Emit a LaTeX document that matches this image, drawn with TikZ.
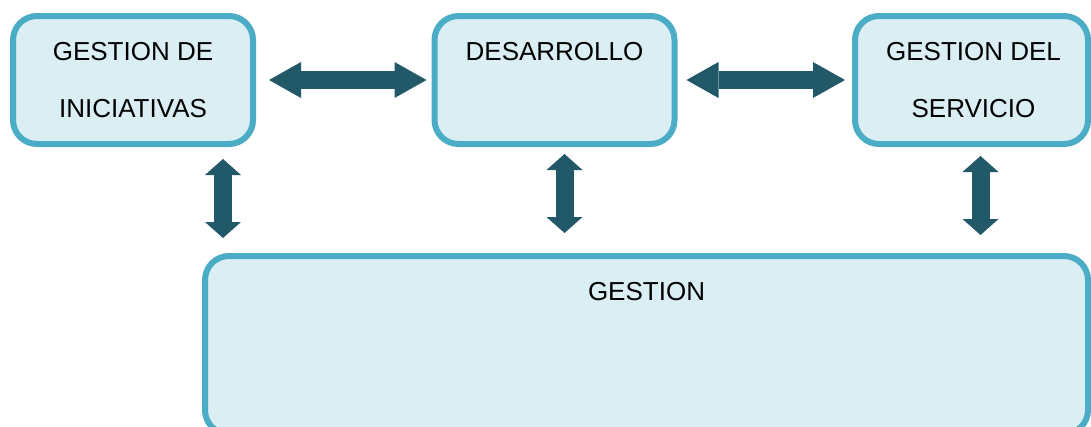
\documentclass[tikz,border=0pt]{standalone}
\usepackage{fontspec}
\setmainfont{Liberation Sans}
\usetikzlibrary{arrows.meta,positioning}

\definecolor{borde}{HTML}{4BACC6}
\definecolor{relleno}{HTML}{DAEEF3}
\definecolor{flecha}{HTML}{215968}

\tikzset{
  caja/.style={draw=borde, fill=relleno, line width=6pt, rounded corners=24pt, minimum height=128pt},
  texto/.style={font=\fontsize{26}{31}\selectfont, anchor=base, inner sep=0pt},
  hflecha/.style={draw=flecha, line width=18pt,
    {Triangle[length=32pt,width=36pt,line width=0pt]}-{Triangle[length=32pt,width=36pt,line width=0pt]}},
  vflecha/.style={draw=flecha, line width=18pt,
    {Triangle[length=16pt,width=36pt,line width=0pt]}-{Triangle[length=16pt,width=36pt,line width=0pt]}}
}

\begin{document}
\begin{tikzpicture}[x=1pt,y=-1pt]
            \clip (0,0) rectangle (1091,426);

            % The four boxes
            \node[caja, minimum width=240pt] (ini) at (133,80) {};
            \node[caja, minimum width=240pt] (des) at (554.5,80) {};
            \node[caja, minimum width=233pt] (ser) at (971.5,80) {};
            \node[caja, minimum width=883pt, minimum height=178pt] (gest) at (646.5,345) {};

            % Box titles
            \node[texto] (ini-1) at ([yshift=-47pt]ini.north) {GESTION DE};
            \node[texto] (ini-2) at ([yshift=-104pt]ini.north) {INICIATIVAS};
            \node[texto] (des-1) at ([yshift=-47pt]des.north) {DESARROLLO};
            \node[texto] (ser-1) at ([xshift=2pt,yshift=-47pt]ser.north) {GESTION DEL};
            \node[texto] (ser-2) at ([xshift=2pt,yshift=-104pt]ser.north) {SERVICIO};
            \node[texto] (gest-1) at ([yshift=-47pt]gest.north) {GESTION};

            % Arrows along the top row
            \draw[hflecha, shorten <=13pt, shorten >=5pt] (ini.east) -- (des.west);
            \draw[hflecha, shorten <=9pt, shorten >=7pt] (des.east) -- (ser.west);

            % Arrows down to the bottom box
            \foreach \caja/\dx/\a/\b in {ini/90/12/15, des/10/7/20, ser/9/9/18} {
            \coordinate (v-\caja) at ([xshift=\dx pt]\caja.south);
            \draw[vflecha, shorten <=\a pt, shorten >=\b pt] (v-\caja) -- (v-\caja |- gest.north);
            }

\end{tikzpicture}
\end{document}
